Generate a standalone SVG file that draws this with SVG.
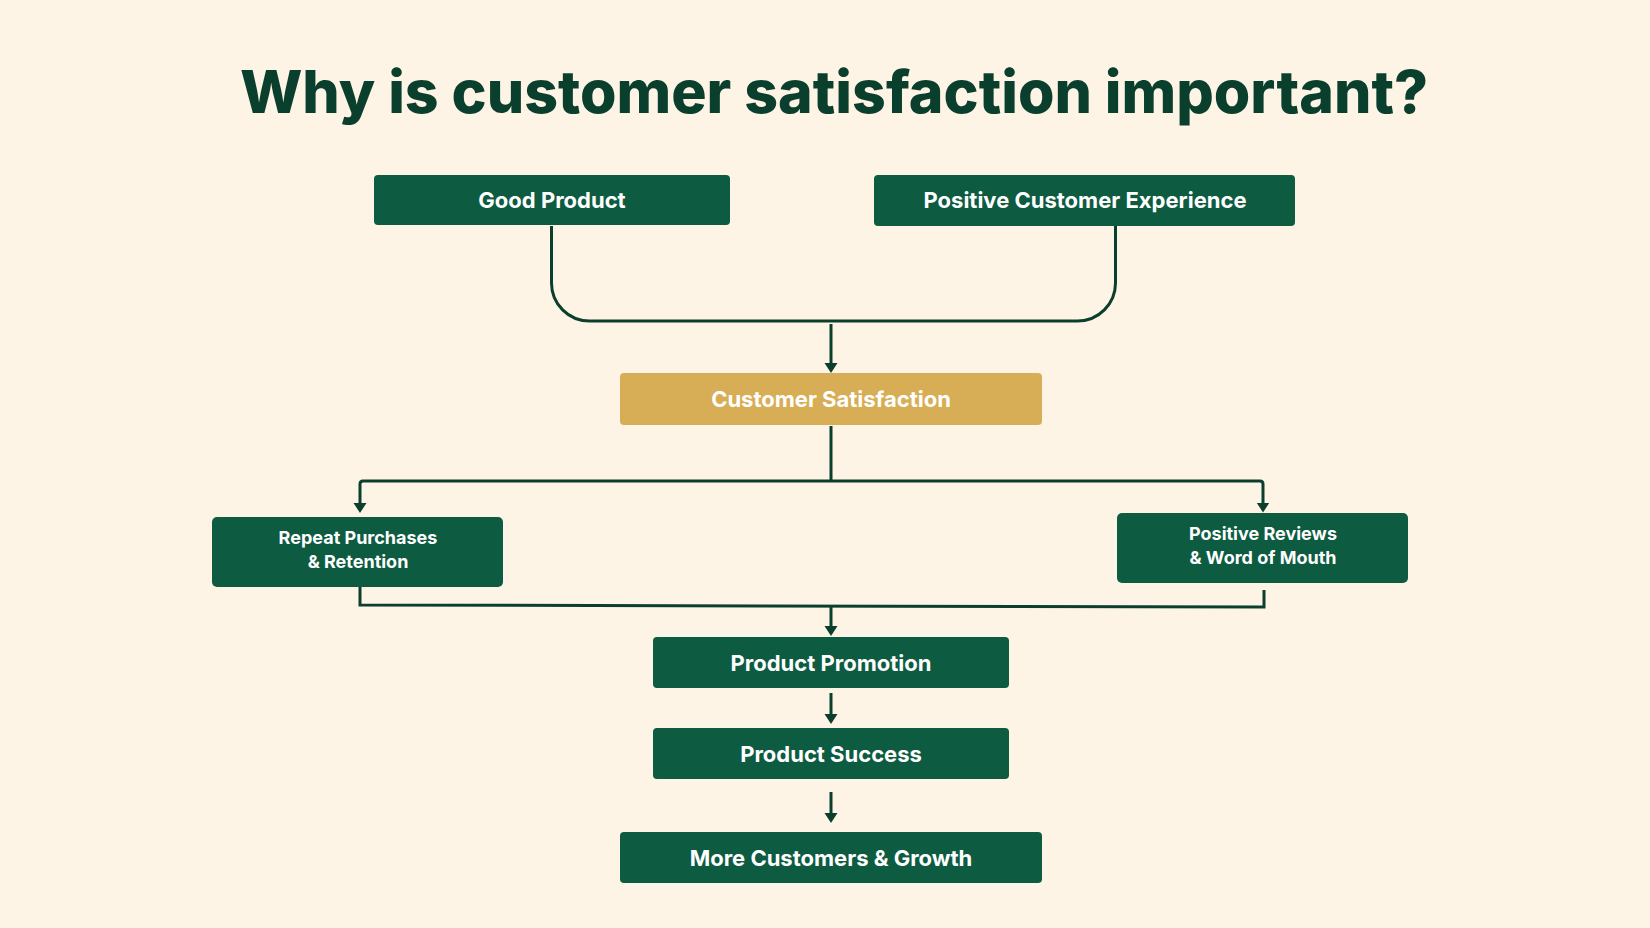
<svg xmlns="http://www.w3.org/2000/svg" width="1650" height="928" viewBox="0 0 1650 928">
  <style>
    .box { fill: #0D5B41; }
    .gold { fill: #D7AE55; }
    .lbl { font-family: Inter, "Liberation Sans", sans-serif; font-weight: 700; fill: #FFFFFF; text-anchor: middle; }
    .big { font-size: 22px; }
    .small { font-size: 18px; }
    .conn { fill: none; stroke: #0A3F2D; stroke-width: 3; }
    .title { font-family: Inter, "Liberation Sans", sans-serif; font-weight: 800; font-size: 59px; fill: #0A3F2D; text-anchor: middle; }
  </style>
  <defs>
    <marker id="arrow" viewBox="0 -7 10 14" markerUnits="userSpaceOnUse" markerWidth="10" markerHeight="14" refX="2" refY="0" orient="auto">
      <path d="M0,-6.5 L10,0 L0,6.5 Z" fill="#0A3F2D"/>
    </marker>
  </defs>
  <rect width="1650" height="928" fill="#FEF4E6"/>
  <text class="title" x="834" y="113">Why is customer satisfaction important?</text>

  <g id="connectors">
    <path class="conn" d="M551.5,226 V283 A38,38 0 0 0 589.5,321 H1077.5 A38,38 0 0 0 1115.5,283 V226"/>
    <path class="conn" d="M831,324 V365" marker-end="url(#arrow)"/>
    <path class="conn" d="M831,426 V481"/>
    <path class="conn" d="M831,481 H363 Q360,481 360,484 V505" marker-end="url(#arrow)"/>
    <path class="conn" d="M831,481 H1260 Q1263,481 1263,484 V504.5" marker-end="url(#arrow)"/>
    <path class="conn" d="M360,587 V605 L1264,607 V590"/>
    <path class="conn" d="M831,606 V628" marker-end="url(#arrow)"/>
    <path class="conn" d="M831,693 V716" marker-end="url(#arrow)"/>
    <path class="conn" d="M831,792 V815" marker-end="url(#arrow)"/>
  </g>

  <g id="good-product">
    <rect class="box" x="374" y="175" width="356" height="50" rx="4"/>
    <text class="lbl big" x="552" y="208">Good Product</text>
  </g>
  <g id="positive-customer-experience">
    <rect class="box" x="874" y="175" width="421" height="51" rx="4"/>
    <text class="lbl big" x="1085" y="208">Positive Customer Experience</text>
  </g>
  <g id="customer-satisfaction">
    <rect class="gold" x="620" y="373" width="422" height="52" rx="4"/>
    <text class="lbl big" x="831" y="407">Customer Satisfaction</text>
  </g>
  <g id="repeat-purchases">
    <rect class="box" x="212" y="517" width="291" height="70" rx="5"/>
    <text class="lbl small" x="358" y="544">Repeat Purchases</text>
    <text class="lbl small" x="358" y="568">&amp; Retention</text>
  </g>
  <g id="positive-reviews">
    <rect class="box" x="1117" y="513" width="291" height="70" rx="5"/>
    <text class="lbl small" x="1263" y="540">Positive Reviews</text>
    <text class="lbl small" x="1263" y="564">&amp; Word of Mouth</text>
  </g>
  <g id="product-promotion">
    <rect class="box" x="653" y="637" width="356" height="51" rx="4"/>
    <text class="lbl big" x="831" y="671">Product Promotion</text>
  </g>
  <g id="product-success">
    <rect class="box" x="653" y="728" width="356" height="51" rx="4"/>
    <text class="lbl big" x="831" y="762">Product Success</text>
  </g>
  <g id="more-customers">
    <rect class="box" x="620" y="832" width="422" height="51" rx="4"/>
    <text class="lbl big" x="831" y="866">More Customers &amp; Growth</text>
  </g>
</svg>
